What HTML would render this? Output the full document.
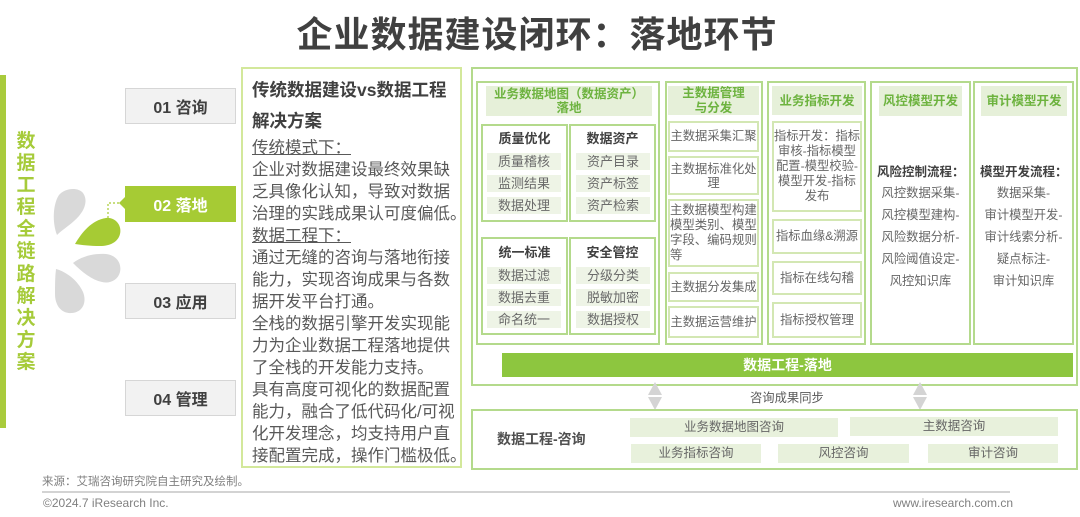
<!DOCTYPE html>
<html><head><meta charset="utf-8">
<style>
*{margin:0;padding:0;box-sizing:border-box}
body{width:1080px;height:517px;background:#fff;position:relative;overflow:hidden;font-family:"Liberation Sans","Noto Sans CJK SC",sans-serif;color:#595959}
.a{position:absolute}
.c{display:flex;align-items:center;justify-content:center;text-align:center}
.step{position:absolute;left:125px;width:111px;height:36px;background:#f2f2f2;border:1.5px solid #d6d6d6;font-size:16px;font-weight:bold;color:#404040;display:flex;align-items:center;justify-content:center;white-space:nowrap}
.col{position:absolute;top:81px;height:264px;border:2px solid #b4da8c}
.hd{position:absolute;background:#e6f0d9;color:#6db33f;font-weight:bold;font-size:12.5px;line-height:14px;display:flex;align-items:center;justify-content:center;text-align:center;white-space:nowrap}
.sub{position:absolute;border:2px solid #b4da8c;width:87px;height:98px}
.st{position:absolute;width:100%;text-align:center;font-weight:bold;color:#404040;font-size:13px;line-height:16px}
.pill{position:absolute;height:17px;width:74px;background:#eef4e6;color:#6a6a6a;font-size:13px;line-height:17px;text-align:center;white-space:nowrap}
.it{position:absolute;border:2px solid #d3e7b3;background:#fff;color:#666;font-size:12.3px;line-height:15px;display:flex;align-items:center;justify-content:center;text-align:center;white-space:nowrap}
.ln{position:absolute;white-space:nowrap;font-size:12.3px;line-height:22px;color:#666;text-align:center}
.mt{position:absolute;left:252px;white-space:nowrap;font-size:16.5px;line-height:22px;color:#595959}
.cp{position:absolute;height:19px;background:#e8f1dc;color:#666;font-size:12.5px;line-height:19px;text-align:center;white-space:nowrap}
</style></head><body>

<div class="a" style="left:0;top:13px;width:1074px;text-align:center;font-size:36px;line-height:44px;font-weight:bold;color:#404040;letter-spacing:1px;white-space:nowrap">企业数据建设闭环：落地环节</div>

<!-- left bar -->
<div class="a" style="left:0;top:75px;width:6px;height:353px;background:#a9cb3c"></div>
<div class="a" style="left:14px;top:131px;width:24px;text-align:center;font-size:19px;line-height:22.1px;font-weight:bold;color:#a6cb3a">数<br>据<br>工<br>程<br>全<br>链<br>路<br>解<br>决<br>方<br>案</div>

<svg class="a" style="left:0;top:0" width="130" height="330" viewBox="0 0 130 330">
<path d="M57,235 C52,222 53,204 59,195 C65,188 78,187 83,193 C88,200 85,209 79,216 C72,224 63,229 57,235 Z" fill="#d9d9d9"/>
<path d="M75,244 C82,232 92,220 106,218 C116,217 122,226 120,234 C118,242 110,246 100,246 C90,246 82,245 75,244 Z" fill="#a6cb34"/>
<path d="M73,263 C82,256 95,253 106,254 C116,255 122,263 120,272 C118,280 110,284 102,282 C92,280 82,272 73,263 Z" fill="#d9d9d9"/>
<path d="M56,269 C67,272 78,281 83,292 C87,302 83,312 72,313 C61,314 55,305 55,294 C55,285 55,277 56,269 Z" fill="#d9d9d9"/>
<path d="M108,218 L108,203 L121,203" fill="none" stroke="#a6cb34" stroke-width="1.2" stroke-dasharray="2,2"/>
<polygon points="119,203 126,196 126,210" fill="#a6cb34"/>
</svg>

<div class="step" style="top:88px">01 咨询</div>
<div class="step" style="top:186px;background:#a6cb34;border-color:#a6cb34;color:#fff">02 落地</div>
<div class="step" style="top:283px">03 应用</div>
<div class="step" style="top:380px">04 管理</div>

<!-- middle text box -->
<div class="a" style="left:241px;top:67px;width:221px;height:401px;border:2px solid #d3e89b"></div>
<div class="a" style="left:252px;top:79px;white-space:nowrap;font-size:17.5px;line-height:22px;font-weight:bold;color:#404040">传统数据建设vs数据工程</div>
<div class="a" style="left:252px;top:110px;white-space:nowrap;font-size:17.5px;line-height:22px;font-weight:bold;color:#404040">解决方案</div>
<div class="mt" style="top:137px;text-decoration:underline">传统模式下：</div>
<div class="mt" style="top:159px">企业对数据建设最终效果缺</div>
<div class="mt" style="top:181px">乏具像化认知，导致对数据</div>
<div class="mt" style="top:203px">治理的实践成果认可度偏低。</div>
<div class="mt" style="top:225px;text-decoration:underline">数据工程下：</div>
<div class="mt" style="top:247px">通过无缝的咨询与落地衔接</div>
<div class="mt" style="top:269px">能力，实现咨询成果与各数</div>
<div class="mt" style="top:291px">据开发平台打通。</div>
<div class="mt" style="top:313px">全栈的数据引擎开发实现能</div>
<div class="mt" style="top:335px">力为企业数据工程落地提供</div>
<div class="mt" style="top:357px">了全栈的开发能力支持。</div>
<div class="mt" style="top:379px">具有高度可视化的数据配置</div>
<div class="mt" style="top:401px">能力，融合了低代码化/可视</div>
<div class="mt" style="top:423px">化开发理念，均支持用户直</div>
<div class="mt" style="top:445px">接配置完成，操作门槛极低。</div>

<!-- right outer container -->
<div class="a" style="left:471px;top:67px;width:607px;height:319px;border:2px solid #b4da8c"></div>

<!-- col1 -->
<div class="col" style="left:476px;width:184px"></div>
<div class="hd" style="left:486px;top:86px;width:166px;height:30px">业务数据地图（数据资产）<br>落地</div>
<div class="sub" style="left:481px;top:124px"><div class="st" style="top:5px">质量优化</div></div>
<div class="sub" style="left:569px;top:124px"><div class="st" style="top:5px">数据资产</div></div>
<div class="sub" style="left:481px;top:237px"><div class="st" style="top:6px">统一标准</div></div>
<div class="sub" style="left:569px;top:237px"><div class="st" style="top:6px">安全管控</div></div>
<div class="pill" style="left:487px;top:153px">质量稽核</div>
<div class="pill" style="left:487px;top:175px">监测结果</div>
<div class="pill" style="left:487px;top:197px">数据处理</div>
<div class="pill" style="left:576px;top:153px">资产目录</div>
<div class="pill" style="left:576px;top:175px">资产标签</div>
<div class="pill" style="left:576px;top:197px">资产检索</div>
<div class="pill" style="left:487px;top:267px">数据过滤</div>
<div class="pill" style="left:487px;top:289px">数据去重</div>
<div class="pill" style="left:487px;top:311px">命名统一</div>
<div class="pill" style="left:576px;top:267px">分级分类</div>
<div class="pill" style="left:576px;top:289px">脱敏加密</div>
<div class="pill" style="left:576px;top:311px">数据授权</div>

<!-- col2 -->
<div class="col" style="left:665px;width:98px"></div>
<div class="hd" style="left:668px;top:86px;width:91px;height:29px;line-height:15px">主数据管理<br>与分发</div>
<div class="it" style="left:668px;top:121px;width:91px;height:31px">主数据采集汇聚</div>
<div class="it" style="left:668px;top:156px;width:91px;height:39px;line-height:14px">主数据标准化处<br>理</div>
<div class="it" style="left:668px;top:199px;width:91px;height:68px;justify-content:flex-start;text-align:left;font-size:12.4px">主数据模型构建<br>模型类别、模型<br>字段、编码规则<br>等</div>
<div class="it" style="left:668px;top:272px;width:91px;height:30px">主数据分发集成</div>
<div class="it" style="left:668px;top:306px;width:91px;height:32px">主数据运营维护</div>

<!-- col3 -->
<div class="col" style="left:767px;width:99px"></div>
<div class="hd" style="left:772px;top:86px;width:90px;height:29px">业务指标开发</div>
<div class="it" style="left:772px;top:121px;width:90px;height:91px">指标开发：指标<br>审核-指标模型<br>配置-模型校验-<br>模型开发-指标<br>发布</div>
<div class="it" style="left:772px;top:219px;width:90px;height:35px">指标血缘&amp;溯源</div>
<div class="it" style="left:772px;top:261px;width:90px;height:34px">指标在线勾稽</div>
<div class="it" style="left:772px;top:302px;width:90px;height:36px">指标授权管理</div>

<!-- col4 -->
<div class="col" style="left:870px;width:101px"></div>
<div class="hd" style="left:879px;top:86px;width:83px;height:30px">风控模型开发</div>
<div class="a" style="left:877px;top:163px;white-space:nowrap;font-size:12.5px;line-height:18px;font-weight:bold;color:#404040">风险控制流程：</div>
<div class="ln" style="left:870px;width:101px;top:182px">风控数据采集-<br>风控模型建构-<br>风险数据分析-<br>风险阈值设定-<br>风控知识库</div>

<!-- col5 -->
<div class="col" style="left:973px;width:101px"></div>
<div class="hd" style="left:981px;top:86px;width:86px;height:30px">审计模型开发</div>
<div class="a" style="left:980px;top:163px;white-space:nowrap;font-size:12.5px;line-height:18px;font-weight:bold;color:#404040">模型开发流程：</div>
<div class="ln" style="left:973px;width:101px;top:182px">数据采集-<br>审计模型开发-<br>审计线索分析-<br>疑点标注-<br>审计知识库</div>

<!-- green bar -->
<div class="a c" style="left:502px;top:353px;width:571px;height:24px;background:#8dc63f;color:#fff;font-weight:bold;font-size:14px;white-space:nowrap">数据工程-落地</div>

<!-- arrows -->
<svg class="a" style="left:640px;top:378px" width="300" height="36" viewBox="640 378 300 36">
<polygon points="648,395 655,382 662,395" fill="#d4d4d4"/>
<polygon points="648,397 662,397 655,410" fill="#d4d4d4"/>
<polygon points="913,395 920,382 927,395" fill="#d4d4d4"/>
<polygon points="913,397 927,397 920,410" fill="#d4d4d4"/>
</svg>
<div class="a" style="left:750px;top:389px;font-size:12.3px;line-height:18px;color:#595959;white-space:nowrap">咨询成果同步</div>

<!-- consult box -->
<div class="a" style="left:471px;top:409px;width:607px;height:61px;border:2px solid #b4da8c"></div>
<div class="a" style="left:497px;top:430px;font-size:14px;line-height:18px;font-weight:bold;color:#505050;white-space:nowrap">数据工程-咨询</div>
<div class="cp" style="left:630px;top:418px;width:208px">业务数据地图咨询</div>
<div class="cp" style="left:850px;top:417px;width:208px">主数据咨询</div>
<div class="cp" style="left:631px;top:444px;width:130px">业务指标咨询</div>
<div class="cp" style="left:778px;top:444px;width:131px">风控咨询</div>
<div class="cp" style="left:928px;top:444px;width:130px">审计咨询</div>

<!-- footer -->
<div class="a" style="left:42px;top:474px;font-size:11.5px;line-height:16px;color:#7f7f7f;white-space:nowrap">来源：艾瑞咨询研究院自主研究及绘制。</div>
<div class="a" style="left:42px;top:491px;width:968px;height:2px;background:#d3d3d3"></div>
<div class="a" style="left:43px;top:496px;font-size:12px;line-height:15px;color:#808080;white-space:nowrap">©2024.7 iResearch Inc.</div>
<div class="a" style="left:893px;top:496px;width:120px;text-align:right;font-size:12px;line-height:15px;color:#808080;white-space:nowrap">www.iresearch.com.cn</div>

</body></html>
